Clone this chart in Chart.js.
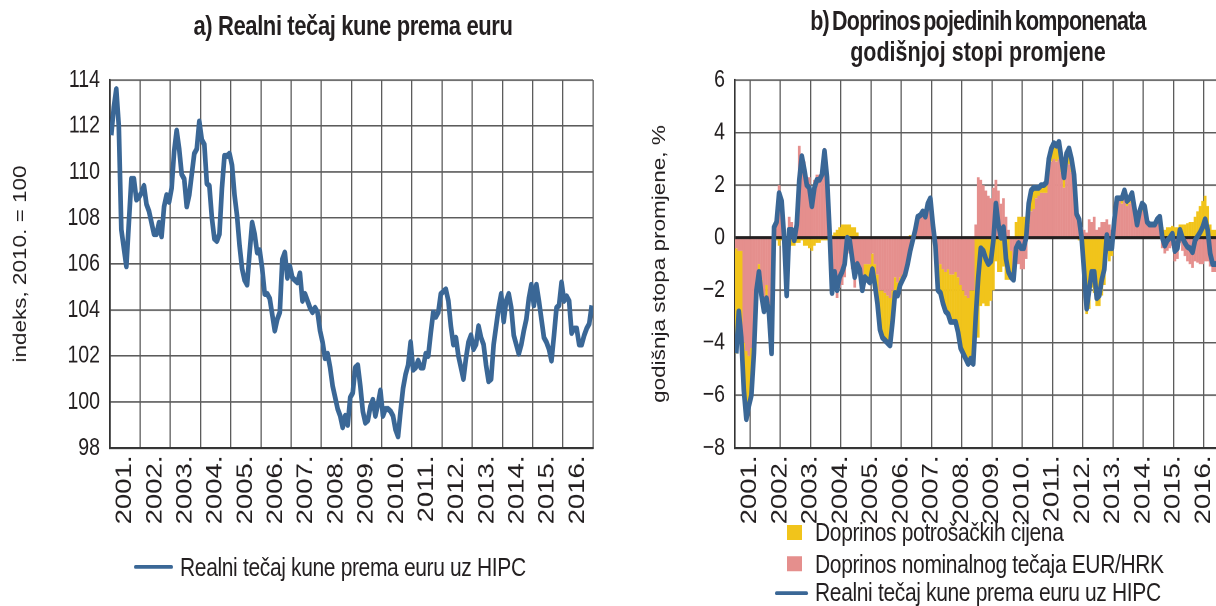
<!DOCTYPE html>
<html>
<head>
<meta charset="utf-8">
<script src="https://cdn.jsdelivr.net/npm/chart.js@4.4.1/dist/chart.umd.min.js"></script>
<style>
  body { margin: 0; width: 1216px; height: 606px; overflow: hidden; background: #fff;
         font-family: "Liberation Sans", Arial, sans-serif; color: #231f20; }
  /* the reference is drawn slightly taller than wide, so the whole page is laid out
     at 1/1.25 height and stretched back */
  #page { position: relative; width: 1216px; height: 484.8px; transform: scaleY(1.25); transform-origin: 0 0; }
  .title { position: absolute; font-weight: bold; font-size: 21.5px; letter-spacing: -0.5px; text-align: center; line-height: 24.8px; }
  .leg { position: absolute; font-size: 21px; letter-spacing: -0.35px; white-space: nowrap; line-height: 18px; }
  .sw { position: absolute; width: 15px; height: 12px; }
  .ln { position: absolute; height: 3.6px; border-radius: 2px; background: #3a6796; }
  canvas { position: absolute; }
</style>
</head>
<body>
<div id="page">
  <div class="title" style="left:150px;top:9.2px;width:406px;font-size:22px;letter-spacing:-0.4px;">a) Realni tečaj kune prema euru</div>
  <div class="title" style="left:760px;top:5.2px;width:436px;">
    <span style="letter-spacing:-0.8px;word-spacing:-2px;">b) Doprinos pojedinih komponenata</span><br>
    <span style="letter-spacing:0;">godišnjoj stopi promjene</span>
  </div>

  <canvas id="chartA" width="600" height="376" style="left:0;top:56px;"></canvas>
  <canvas id="chartB" width="610" height="376" style="left:620px;top:56px;"></canvas>

  <div class="ln" style="left:134px;top:451.8px;width:39px;"></div>
  <div class="leg" style="left:180px;top:444.6px;">Realni tečaj kune prema euru uz HIPC</div>

  <div class="sw" style="left:787px;top:420px;background:#f1c41b;"></div>
  <div class="leg" style="left:815px;top:416.6px;">Doprinos potrošačkih cijena</div>
  <div class="sw" style="left:787px;top:445.2px;background:#e58f8d;"></div>
  <div class="leg" style="left:815px;top:442.2px;">Doprinos nominalnog tečaja EUR/HRK</div>
  <div class="ln" style="left:775px;top:472.6px;width:33px;"></div>
  <div class="leg" style="left:815px;top:465.4px;">Realni tečaj kune prema euru uz HIPC</div>
</div>

<script>
// monthly data, Jan 2001 - Dec 2016
const firstYear = 2001;
const yearTicks = [2001, 2002, 2003, 2004, 2005, 2006, 2007, 2008, 2009, 2010, 2011, 2012, 2013, 2014, 2015, 2016, 2017];
const levelTicks = [98, 100, 102, 104, 106, 108, 110, 112, 114];
const changeTicks = [-8, -6, -4, -2, 0, 2, 4, 6];

// a) real exchange rate index, 2010 = 100
const realRate = [
  111.6, 112.8, 113.6, 112.0, 107.5, 106.7, 105.9, 107.8, 109.7, 109.7, 108.8, 108.9,
  109.1, 109.4, 108.6, 108.3, 107.8, 107.3, 107.3, 107.8, 107.2, 108.5, 109.0, 108.7,
  109.3, 110.9, 111.8, 111.0, 109.9, 109.7, 108.5, 109.0, 109.9, 110.8, 111.0, 112.2,
  111.4, 111.2, 109.5, 109.4, 108.0, 107.1, 107.0, 107.3, 109.3, 110.7, 110.7, 110.8,
  110.3, 109.0, 108.1, 106.8, 105.8, 105.3, 105.1, 106.5, 107.8, 107.3, 106.5, 106.6,
  105.8, 104.7, 104.7, 104.5, 103.8, 103.1, 103.6, 103.9, 106.2, 106.5, 105.4, 105.9,
  105.4, 105.3, 105.2, 105.6, 104.4, 104.7, 104.4, 104.1, 103.9, 104.1, 103.9, 103.1,
  102.6, 101.9, 102.1, 101.5, 100.7, 100.2, 99.7, 99.4, 98.9, 99.4, 99.0, 100.2,
  100.4, 101.5, 101.6, 100.7, 99.6, 99.1, 99.2, 99.8, 100.1, 99.4, 99.9, 100.5,
  99.4, 99.7, 99.7, 99.6, 99.4, 98.8, 98.5, 99.6, 100.6, 101.2, 101.6, 102.6,
  101.4, 101.5, 101.8, 101.5, 101.5, 102.1, 102.0, 103.0, 103.9, 103.7, 103.9, 104.7,
  104.8, 104.9, 104.4, 103.3, 102.5, 102.8, 102.0, 101.5, 101.0, 101.9, 102.6, 102.9,
  102.3, 102.5, 103.3, 102.8, 102.5, 101.6, 100.9, 101.0, 102.5, 103.3, 104.1, 104.7,
  103.5, 104.4, 104.7, 104.1, 102.9, 102.5, 102.1, 102.5, 103.1, 103.6, 104.5, 105.1,
  104.2, 105.1, 104.4, 103.6, 102.8, 102.6, 102.3, 101.8, 102.9, 104.1, 104.2, 105.2,
  104.4, 104.6, 104.4, 103.0, 103.2, 103.2, 102.5, 102.5, 102.9, 103.2, 103.4, 104.2
];

// b) annual rate of change of the real rate, %
const realRateChange = [
  -4.4, -2.8, -3.8, -5.8, -6.9, -6.4, -6.0, -4.4, -2.0, -1.3, -2.2, -2.8,
  -2.3, -2.9, -4.4, 0.4, 0.6, 1.7, 1.4, 0.0, -2.2, 0.3, 0.3, -0.1,
  0.5, 2.2, 3.1, 2.6, 2.0, 1.9, 1.2, 1.9, 2.2, 2.2, 2.4, 3.3,
  2.3, 0.3, -2.1, -1.3, -2.0, -1.5, -1.3, -1.0, 0.0, -0.1, -0.8, -1.5,
  -1.0, -1.2, -2.0, -1.5, -1.6, -1.7, -1.2, -1.8, -2.5, -3.5, -3.8, -3.9,
  -4.0, -4.1, -3.2, -2.1, -2.2, -1.8, -1.6, -1.4, -1.0, -0.5, -0.1, 0.3,
  0.8, 0.85, 1.0, 0.8, 1.3, 1.5, 0.5, -0.3, -2.0, -2.1, -2.5, -2.8,
  -2.9, -3.2, -3.2, -3.2, -3.6, -4.2, -4.4, -4.6, -4.8, -4.6, -4.8, -3.0,
  -1.5, -0.4, -0.5, -0.8, -1.0, -0.9, -0.1, 1.3, 0.5, 0.0, 0.4, -0.8,
  -1.3, -1.5, -1.6, -0.4, -0.2, -0.4, -0.4, 0.0, 1.3, 1.8, 1.9, 1.9,
  1.9, 2.0, 2.0, 2.1, 3.0, 3.4, 3.6, 3.5, 3.65, 3.0, 2.3, 3.2,
  3.4, 3.0, 2.4, 0.9, 0.7, 0.0, -1.3, -2.7, -2.0, -1.3, -1.3, -2.3,
  -2.2, -1.6, -1.2, 0.1, -0.4, -0.4, 0.7, 1.5, 1.5, 1.5, 1.8, 1.4,
  1.5, 1.7, 1.1, 0.5, 1.0, 1.3, 1.2, 0.6, 0.5, 0.5, 0.5, 0.7,
  0.8, 0.0, -0.3, -0.1, 0.0, 0.15, -0.5, -0.4, 0.3, 0.0, -0.2, -0.35,
  -0.4, -0.55, -0.1, 0.05, 0.2, 0.4, 0.7, 0.3, -0.6, -1.0, -1.0, -1.0
];

// contribution of the nominal EUR/HRK rate, p.p.
const fxContrib = [
  -0.4, -0.5, -0.5, -4.0, -4.3, -4.5, -4.2, -3.5, -1.8, -1.0, -1.6, -2.6,
  -1.8, -2.5, -3.8, 0.5, 0.7, 2.0, 1.5, 0.3, -1.7, 0.8, 0.6, 0.2,
  0.7, 3.5, 3.2, 2.9, 2.3, 2.3, 1.6, 2.2, 2.4, 2.4, 2.5, 3.4,
  2.4, 0.3, -2.2, -1.5, -2.3, -1.9, -1.8, -1.5, -0.5, -0.6, -1.2, -1.9,
  -1.2, -1.1, -1.5, -1.0, -1.0, -1.0, -0.6, -1.0, -1.4, -2.0, -2.0, -2.1,
  -2.2, -2.3, -2.0, -1.5, -1.7, -1.5, -1.4, -1.3, -1.0, -0.6, -0.2, 0.1,
  0.7, 0.8, 0.9, 0.7, 1.2, 1.4, 0.5, -0.2, -1.2, -1.0, -1.2, -1.3,
  -1.2, -1.4, -1.4, -1.3, -1.5, -1.8, -2.0, -2.2, -2.3, -2.0, -2.0, 0.5,
  2.3, 2.2, 2.0, 1.8, 1.6, 1.5, 1.9, 2.2, 1.8, 1.3, 1.5, 0.8,
  0.3, -0.5, -1.2, -1.0, -1.0, -1.2, -1.2, -0.8, 0.5, 1.0, 1.1, 1.5,
  1.6, 1.7, 1.7, 1.7, 2.5, 2.9, 3.0, 2.9, 3.0, 2.5, 1.9, 2.6,
  2.8, 2.5, 2.0, 0.9, 0.8, 0.4, 0.3, 0.2, 0.7, 0.6, 0.8, 0.3,
  0.4, 0.6, 0.6, 0.7, 0.5, 0.3, 0.5, 1.3, 1.4, 1.3, 1.5, 1.2,
  1.3, 1.5, 1.0, 0.5, 0.9, 1.0, 1.0, 0.6, 0.5, 0.5, 0.5, 0.6,
  0.4, -0.4, -0.6, -0.5, -0.4, -0.3, -0.9, -0.8, -0.2, -0.5, -0.7, -0.9,
  -1.0, -1.15, -0.9, -0.95, -1.0, -1.0, -0.9, -0.9, -1.1, -1.3, -1.3, -1.3
];

// contribution of consumer prices, p.p.
const cpiContrib = [
  -4.0, -2.3, -3.3, -1.8, -2.6, -1.9, -1.8, -0.9, -0.2, -0.3, -0.6, -0.2,
  -0.5, -0.4, -0.6, -0.1, -0.1, -0.3, -0.1, -0.3, -0.5, -0.5, -0.3, -0.3,
  -0.2, -0.2, -0.1, -0.3, -0.3, -0.4, -0.5, -0.3, -0.2, -0.2, -0.1, -0.1,
  -0.1, 0.0, 0.1, 0.2, 0.3, 0.4, 0.5, 0.5, 0.5, 0.5, 0.4, 0.4,
  0.2, -0.1, -0.5, -0.5, -0.6, -0.7, -0.6, -0.8, -1.1, -1.5, -1.8, -1.8,
  -1.8, -1.8, -1.2, -0.6, -0.5, -0.3, -0.2, -0.1, 0.0, 0.1, 0.1, 0.2,
  0.1, 0.05, 0.1, 0.1, 0.1, 0.1, 0.0, -0.1, -0.8, -1.1, -1.3, -1.5,
  -1.7, -1.8, -1.8, -1.9, -2.1, -2.4, -2.4, -2.4, -2.5, -2.6, -2.8, -3.5,
  -3.8, -2.6, -2.5, -2.6, -2.6, -2.4, -2.0, -0.9, -1.3, -1.3, -1.1, -1.6,
  -1.6, -1.0, -0.4, 0.6, 0.8, 0.8, 0.8, 0.8, 0.8, 0.8, 0.8, 0.4,
  0.3, 0.3, 0.3, 0.4, 0.5, 0.5, 0.6, 0.6, 0.65, 0.5, 0.4, 0.6,
  0.6, 0.5, 0.4, 0.0, -0.1, -0.4, -1.6, -2.9, -2.7, -1.9, -2.1, -2.6,
  -2.6, -2.2, -1.8, -0.6, -0.9, -0.7, 0.2, 0.2, 0.1, 0.2, 0.3, 0.2,
  0.2, 0.2, 0.1, 0.0, 0.1, 0.3, 0.2, 0.0, 0.0, 0.0, 0.0, 0.1,
  0.4, 0.4, 0.3, 0.4, 0.4, 0.45, 0.4, 0.4, 0.5, 0.5, 0.5, 0.55,
  0.6, 0.6, 0.8, 1.0, 1.2, 1.4, 1.6, 1.2, 0.5, 0.3, 0.3, 0.3
];

const BLUE = '#3a6796';
const YELLOW = '#f1c41b';
const PINK = '#e58f8d';
const GRID = '#5c5c5c';
const INK = '#231f20';
const FAMILY = '"Liberation Sans", Arial, sans-serif';

const monthX = i => firstYear + (i + 0.5) / 12;
const points = arr => arr.map((v, i) => ({ x: monthX(i), y: v }));

function yearAxis(height) {
  return {
    type: 'linear',
    min: yearTicks[0],
    max: yearTicks[yearTicks.length - 1],
    offset: false,
    afterBuildTicks: s => { s.ticks = yearTicks.map(v => ({ value: v })); },
    ticks: {
      autoSkip: false, minRotation: 90, maxRotation: 90, labelOffset: 15, padding: 6,
      color: INK, font: { family: FAMILY, size: 22 },
      callback: v => v < yearTicks[yearTicks.length - 1] ? v + '.' : ''
    },
    grid: { color: GRID, lineWidth: 1.3, drawTicks: false },
    border: { color: '#333', width: 1.6 },
    // fixed box: no extra room for the rotated end labels
    afterFit: s => { s.height = height; s.paddingLeft = 0; s.paddingRight = 0; }
  };
}

function valueAxis(ticks, title, width, fmt) {
  const withZero = ticks[0] < 0;
  return {
    min: ticks[0],
    max: ticks[ticks.length - 1],
    afterBuildTicks: s => { s.ticks = ticks.map(v => ({ value: v })); },
    ticks: { padding: 10, color: INK, font: { family: FAMILY, size: 19.5 }, callback: fmt },
    grid: {
      drawTicks: false,
      color: c => withZero && c.tick && c.tick.value === 0 ? INK : GRID,
      lineWidth: c => withZero && c.tick && c.tick.value === 0 ? 2.4 : 1.3
    },
    border: { color: '#333', width: 1.6 },
    title: { display: true, text: title, color: INK, font: { family: FAMILY, size: 18 }, padding: 0 },
    afterFit: s => { s.width = width; s.paddingTop = 0; s.paddingBottom = 0; }
  };
}

new Chart(document.getElementById('chartA'), {
  type: 'line',
  data: {
    datasets: [{
      label: 'Realni tečaj kune prema euru uz HIPC',
      data: points(realRate),
      borderColor: BLUE,
      borderWidth: 4.7,
      pointRadius: 0,
      borderJoinStyle: 'round'
    }]
  },
  options: {
    responsive: false,
    animation: false,
    devicePixelRatio: 2,
    layout: { autoPadding: false, padding: { top: 8, right: 7, left: 10, bottom: 0 } },
    plugins: { legend: { display: false }, tooltip: { enabled: false } },
    scales: {
      x: yearAxis(73.6),
      y: valueAxis(levelTicks, 'indeks, 2010. = 100', 100, v => v)
    }
  }
});

new Chart(document.getElementById('chartB'), {
  type: 'bar',
  data: {
    datasets: [
      {
        label: 'Doprinos nominalnog tečaja EUR/HRK',
        data: points(fxContrib),
        backgroundColor: PINK,
        stack: 'c',
        order: 1,
        barPercentage: 1.08,
        categoryPercentage: 1
      },
      {
        label: 'Doprinos potrošačkih cijena',
        data: points(cpiContrib),
        backgroundColor: YELLOW,
        stack: 'c',
        order: 2,
        barPercentage: 1.08,
        categoryPercentage: 1
      },
      {
        type: 'line',
        label: 'Realni tečaj kune prema euru uz HIPC',
        data: points(realRateChange),
        borderColor: BLUE,
        borderWidth: 4.7,
        pointRadius: 0,
        borderJoinStyle: 'round',
        stack: 'l',
        order: 0
      }
    ]
  },
  options: {
    responsive: false,
    animation: false,
    devicePixelRatio: 2,
    layout: { autoPadding: false, padding: { top: 8, right: 11, left: 29, bottom: 0 } },
    plugins: { legend: { display: false }, tooltip: { enabled: false } },
    scales: {
      x: { ...yearAxis(73.6), stacked: true },
      y: { ...valueAxis(changeTicks, 'godišnja stopa promjene, %', 86, v => v < 0 ? '\u2212' + Math.abs(v) : v), stacked: true }
    }
  }
});
</script>
</body>
</html>
